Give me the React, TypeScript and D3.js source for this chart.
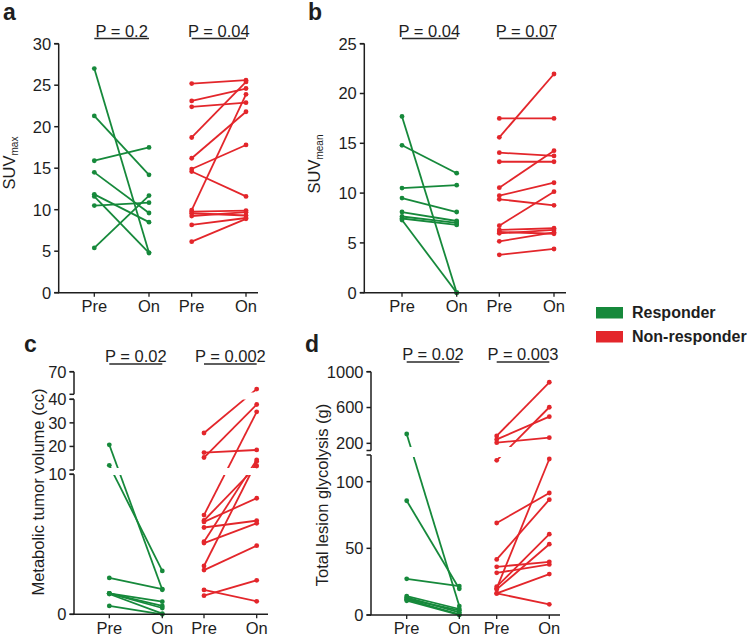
import React from "react";
import * as d3 from "d3";

type Pair = [number, number];

const groups = ["Responder", "Non-responder"];
const timepoints = ["Pre", "On", "Pre", "On"];
const groupColors = ["#16893b", "#e3262b"];

// Panel a: SUVmax (Pre, On)
const suvMaxResp: Pair[] = [[27.0, 4.8], [21.3, 14.2], [15.9, 17.5], [14.5, 9.6], [11.85, 8.5], [11.6, 4.8], [10.5, 10.85], [5.4, 11.7]];
const suvMaxNon: Pair[] = [[25.2, 25.6], [23.1, 24.6], [22.4, 22.9], [18.7, 25.4], [16.2, 21.8], [14.9, 17.8], [14.6, 11.6], [9.96, 23.9], [9.76, 9.9], [9.57, 9.3], [9.24, 9.7], [8.16, 9.0], [6.15, 8.9]];
// Panel b: SUVmean
const suvMeanResp: Pair[] = [[17.7, 0], [14.8, 12.0], [10.5, 10.8], [9.5, 8.1], [8.1, 7.2], [7.65, 7.0], [7.45, 6.8], [7.3, 0]];
const suvMeanNon: Pair[] = [[17.5, 17.5], [15.6, 21.96], [14.06, 13.73], [13.15, 13.15], [10.54, 14.26], [9.74, 11.04], [9.38, 8.77], [6.73, 10.14], [6.3, 6.47], [6.1, 5.92], [5.96, 6.3], [5.16, 6.06], [3.8, 4.39]];
// Panel c: Metabolic tumor volume (cc)
const mtvResp: Pair[] = [[20.7, 1.75], [12.0, 3.1], [2.6, 1.8], [1.5, 0.9], [1.5, 0.6], [1.5, 0.45], [1.45, 0.05], [0.6, 0.0]];
const mtvNon: Pair[] = [[25.7, 47], [17.4, 18.5], [15.3, 37.8], [7.09, 34.7], [6.7, 11.7], [6.6, 8.29], [6.2, 6.69], [5.19, 14.3], [5.09, 6.5], [3.45, 13.6], [3.16, 4.9], [1.74, 0.93], [1.33, 2.43]];
// Panel d: Total lesion glycolysis (g)
const tlgResp: Pair[] = [[304, 6.7], [85.7, 19.7], [27.1, 21.7], [14.2, 4.5], [13.2, 2.0], [12.0, 3.5], [11.7, 0.5], [10.7, 0]];
const tlgNon: Pair[] = [[282, 882], [244, 498], [207, 263], [116, 603], [69, 91.5], [41.7, 86.5], [36.1, 39.9], [31.6, 37.9], [21.2, 60.6], [20.0, 117], [19.2, 53.1], [16.2, 30.7], [16.2, 8.0]];

const suvMaxTicks = [0, 5, 10, 15, 20, 25, 30];
const suvMeanTicks = [0, 5, 10, 15, 20, 25];
const mtvTicks = [0, 10, 20, 30, 40, 70];
const tlgTicks = [0, 50, 100, 200, 600, 1000];

const pA = ["P = 0.2", "P = 0.04"];
const pB = ["P = 0.04", "P = 0.07"];
const pC = ["P = 0.02", "P = 0.002"];
const pD = ["P = 0.02", "P = 0.003"];

const FONT = "'Liberation Sans', Arial, Helvetica, sans-serif";
const INK = "#1e1e1e";

interface Piece { domain: [number, number]; range: [number, number]; }
interface Spec {
  letter: string; letterX: number; letterY: number;
  axisX: number; xEnd: number; yBottom: number;
  pieces: Piece[];
  ticks: number[];
  xOffsets: number[];
  pTexts: string[]; pY: number; lineY: number;
  bands: [number, number][];
  resp: Pair[]; non: Pair[];
  yMain: string; ySub?: string; yLabelX: number; yLabelY: number;
  xLabelY: number;
}

function Panel({ s }: { s: Spec }) {
  const scales = s.pieces.map((p) => d3.scaleLinear().domain(p.domain).range(p.range));
  const y = (v: number) => {
    for (let i = 0; i < s.pieces.length; i++) {
      if (v <= s.pieces[i].domain[1]) return scales[i](v);
    }
    return scales[scales.length - 1](v);
  };
  const xs = s.xOffsets.map((o) => s.axisX + o);
  const line = d3.line<[number, number]>().x((d) => d[0]).y((d) => d[1]);
  const sets = [s.resp, s.non];

  const caps: number[] = [];
  s.pieces.forEach((p, i) => {
    caps.push(scales[i](p.domain[0]));
    caps.push(scales[i](p.domain[1]));
  });

  return (
    <g>
      <text x={s.letterX} y={s.letterY} fontSize={23} fontWeight="bold" fill={INK} fontFamily={FONT}>{s.letter}</text>
      {s.pTexts.map((t, gi) => {
        const x0 = xs[gi * 2], x1 = xs[gi * 2 + 1];
        return (
          <g key={gi}>
            <text x={(x0 + x1) / 2} y={s.pY} fontSize={16.5} textAnchor="middle" fill={INK} fontFamily={FONT}>{t}</text>
            <line x1={x0} x2={x1} y1={s.lineY} y2={s.lineY} stroke="#2a2a2a" strokeWidth={1.6} />
          </g>
        );
      })}
      {sets.map((set, gi) => (
        <g key={gi}>
          {set.map((pr, i) => (
            <path key={i}
              d={line([[xs[gi * 2], y(pr[0])], [xs[gi * 2 + 1], y(pr[1])]]) || ""}
              stroke={groupColors[gi]} strokeWidth={1.8} fill="none" />
          ))}
        </g>
      ))}
      {s.bands.map((b, i) => (
        <rect key={i} x={s.axisX + 1.5} y={b[0]} width={s.xEnd - s.axisX} height={b[1] - b[0]} fill="#fff" />
      ))}
      {sets.map((set, gi) => (
        <g key={gi}>
          {set.map((pr, i) => (
            <g key={i}>
              <circle cx={xs[gi * 2]} cy={y(pr[0])} r={2.4} fill={groupColors[gi]} />
              <circle cx={xs[gi * 2 + 1]} cy={y(pr[1])} r={2.4} fill={groupColors[gi]} />
            </g>
          ))}
        </g>
      ))}
      {s.pieces.map((p, i) => (
        <line key={i} x1={s.axisX} x2={s.axisX} y1={scales[i](p.domain[0])} y2={scales[i](p.domain[1])} stroke={INK} strokeWidth={1.5} />
      ))}
      {caps.map((c, i) => (
        <line key={"c" + i} x1={s.axisX - 4.5} x2={s.axisX} y1={c} y2={c} stroke={INK} strokeWidth={1.5} />
      ))}
      {s.ticks.map((t) => (
        <g key={t}>
          <line x1={s.axisX - 4.5} x2={s.axisX} y1={y(t)} y2={y(t)} stroke={INK} strokeWidth={1.5} />
          <text x={s.axisX - 7.5} y={y(t)} dy="0.36em" fontSize={16.5} textAnchor="end" fill={INK} fontFamily={FONT}>{t}</text>
        </g>
      ))}
      <line x1={s.axisX - 0.75} x2={s.xEnd} y1={s.yBottom} y2={s.yBottom} stroke={INK} strokeWidth={1.5} />
      {xs.map((xv, i) => (
        <g key={i}>
          <line x1={xv} x2={xv} y1={s.yBottom} y2={s.yBottom + 4} stroke={INK} strokeWidth={1.3} />
          <text x={xv} y={s.xLabelY} fontSize={16.5} textAnchor="middle" fill={INK} fontFamily={FONT}>{timepoints[i]}</text>
        </g>
      ))}
      <text transform={`translate(${s.yLabelX},${s.yLabelY}) rotate(-90)`} fontSize={16.5} textAnchor="middle" fill={INK} fontFamily={FONT}>
        {s.yMain}
        {s.ySub ? <tspan fontSize={10} dy={3}>{s.ySub}</tspan> : null}
      </text>
    </g>
  );
}

const specs: Spec[] = [
  {
    letter: "a", letterX: 3, letterY: 20,
    axisX: 58.7, xEnd: 258, yBottom: 292.7,
    pieces: [{ domain: [0, 30], range: [292.7, 43.7] }],
    ticks: suvMaxTicks,
    xOffsets: [35.6, 90.3, 133, 187.3],
    pTexts: pA, pY: 36.5, lineY: 38.5,
    bands: [],
    resp: suvMaxResp, non: suvMaxNon,
    yMain: "SUV", ySub: "max", yLabelX: 15, yLabelY: 163,
    xLabelY: 312,
  },
  {
    letter: "b", letterX: 308, letterY: 20,
    axisX: 364.3, xEnd: 566, yBottom: 292.7,
    pieces: [{ domain: [0, 25], range: [292.7, 43.7] }],
    ticks: suvMeanTicks,
    xOffsets: [37.7, 92.4, 135, 189.7],
    pTexts: pB, pY: 36.5, lineY: 38.5,
    bands: [],
    resp: suvMeanResp, non: suvMeanNon,
    yMain: "SUV", ySub: "mean", yLabelX: 320, yLabelY: 164,
    xLabelY: 312,
  },
  {
    letter: "c", letterX: 24, letterY: 352,
    axisX: 74, xEnd: 268, yBottom: 614.3,
    pieces: [
      { domain: [0, 10], range: [614.3, 474.3] },
      { domain: [10, 40], range: [470, 399.3] },
      { domain: [40, 70], range: [394.3, 371.7] },
    ],
    ticks: mtvTicks,
    xOffsets: [35.3, 88.3, 130, 182.7],
    pTexts: pC, pY: 361.5, lineY: 364,
    bands: [[392.5, 399.5], [468, 475]],
    resp: mtvResp, non: mtvNon,
    yMain: "Metabolic tumor volume (cc)", yLabelX: 44, yLabelY: 492,
    xLabelY: 634,
  },
  {
    letter: "d", letterX: 305, letterY: 352,
    axisX: 371, xEnd: 560, yBottom: 615,
    pieces: [
      { domain: [0, 120], range: [615, 455] },
      { domain: [120, 1000], range: [450.5, 371.7] },
    ],
    ticks: tlgTicks,
    xOffsets: [35.7, 88.3, 125.7, 178.3],
    pTexts: pD, pY: 360, lineY: 362,
    bands: [[447, 457]],
    resp: tlgResp, non: tlgNon,
    yMain: "Total lesion glycolysis (g)", yLabelX: 328, yLabelY: 495,
    xLabelY: 634,
  },
];

export default function App() {
  return (
    <svg width={752} height={636} viewBox="0 0 752 636"
      style={{ position: "absolute", left: 0, top: 0, background: "#fff" }}>
      <rect width={752} height={636} fill="#fff" />
      {specs.map((s) => <Panel key={s.letter} s={s} />)}
      {groups.map((g, i) => (
        <g key={g}>
          <rect x={596} y={307 + i * 24} width={27} height={11.5} fill={groupColors[i]} />
          <text x={632} y={318 + i * 24} fontSize={16} fontWeight="bold" fill={INK} fontFamily={FONT}>{g}</text>
        </g>
      ))}
    </svg>
  );
}
